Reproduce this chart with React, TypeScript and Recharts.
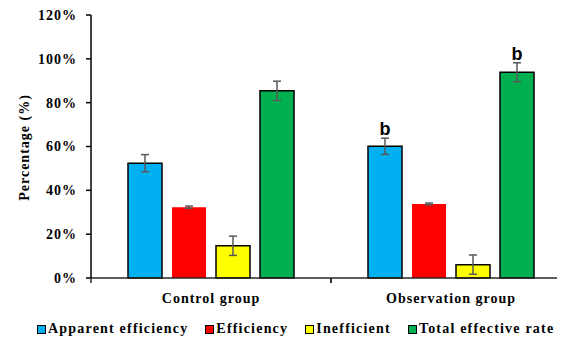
import React from "react";
import { BarChart, Bar, XAxis, YAxis, ErrorBar, LabelList } from "recharts";

const categories = ["Control group", "Observation group"];
const apparent = [52.4, 60.1];
const apparentErr = [3.9, 3.7];
const efficiency = [32.3, 33.8];
const efficiencyErr = [0.5, 0.4];
const inefficient = [14.7, 6.1];
const inefficientErr = [4.4, 4.4];
const total = [85.4, 93.9];
const totalErr = [4.4, 4.3];
const apparentSig = ["", "b"];
const totalSig = ["", "b"];
const yTicks = [0, 20, 40, 60, 80, 100, 120];

const seriesNames = ["Apparent efficiency", "Efficiency", "Inefficient", "Total effective rate"];
const seriesColors = ["#00B0F0", "#FF0000", "#FFFF00", "#00B050"];

const data = categories.map((c, i) => ({
  category: c,
  apparent: apparent[i],
  apparentErr: apparentErr[i],
  apparentSig: apparentSig[i],
  efficiency: efficiency[i],
  efficiencyErr: efficiencyErr[i],
  inefficient: inefficient[i],
  inefficientErr: inefficientErr[i],
  total: total[i],
  totalErr: totalErr[i],
  totalSig: totalSig[i],
}));

const FONT = "'Liberation Serif', 'Times New Roman', serif";

const CatTick = (props: any) => {
  const { x, y, payload } = props;
  const half = payload && payload.offset ? payload.offset : 0;
  return (
    <g>
      <line x1={x - half} x2={x - half} y1={y - 5} y2={y} stroke="#262626" strokeWidth={1.5} />
      <line x1={x + half} x2={x + half} y1={y - 5} y2={y} stroke="#262626" strokeWidth={1.5} />
      <text
        x={x}
        y={y}
        dy={20}
        textAnchor="middle"
        fontFamily={FONT}
        fontWeight="bold"
        fontSize={14}
        letterSpacing={1}
        fill="#000"
      >
        {payload.value}
      </text>
    </g>
  );
};

const makeSig = (values: number[], errs: number[]) => (props: any) => {
  const { x, y, width, height, value, index } = props;
  if (!value) return null;
  const v = values[index];
  const e = errs[index];
  const pxPer = height / v;
  const top = y - e * pxPer;
  return (
    <text
      x={x + width / 2}
      y={top - 3}
      textAnchor="middle"
      fontFamily="'Liberation Sans', Arial, sans-serif"
      fontWeight="bold"
      fontSize={18}
      fill="#000"
    >
      {value}
    </text>
  );
};

const YLabel = (props: any) => {
  const { viewBox } = props;
  const cx = 24;
  const cy = viewBox.y + viewBox.height / 2 + 1;
  return (
    <text
      x={cx}
      y={cy}
      transform={`rotate(-90, ${cx}, ${cy})`}
      textAnchor="middle"
      dominantBaseline="central"
      fontFamily={FONT}
      fontWeight="bold"
      fontSize={14}
      letterSpacing={1}
      fill="#000"
    >
      Percentage (%)
    </text>
  );
};

export default function App() {
  return (
    <div
      style={{
        position: "relative",
        width: 565,
        height: 342,
        marginLeft: -8,
        marginTop: -8,
        overflow: "hidden",
        background: "#fff",
      }}
    >
      <BarChart
        width={580}
        height={342}
        data={data}
        margin={{ top: 15, right: 9, left: 0, bottom: 34 }}
        barSize={34}
        barGap={10}
      >
        <XAxis
          dataKey="category"
          height={30}
          tickLine={false}
          tickSize={5}
          tickMargin={0}
          axisLine={{ stroke: "#262626", strokeWidth: 1.5 }}
          tick={<CatTick />}
          interval={0}
        />
        <YAxis
          width={91}
          domain={[0, 120]}
          ticks={yTicks}
          interval={0}
          tickSize={5}
          tickMargin={9}
          tickFormatter={(v: number) => `${v}%`}
          axisLine={{ stroke: "#000", strokeWidth: 1.5 }}
          tickLine={{ stroke: "#000", strokeWidth: 1.5 }}
          tick={{ fontFamily: FONT, fontWeight: "bold", fontSize: 14, fill: "#000", letterSpacing: 1 }}
          label={<YLabel />}
        />
        <Bar dataKey="apparent" name={seriesNames[0]} fill={seriesColors[0]} stroke="#000" strokeWidth={1.5} isAnimationActive={false}>
          <ErrorBar dataKey="apparentErr" width={4} stroke="#595959" strokeWidth={1.5} />
          <LabelList dataKey="apparentSig" content={makeSig(apparent, apparentErr)} />
        </Bar>
        <Bar dataKey="efficiency" name={seriesNames[1]} fill={seriesColors[1]} isAnimationActive={false}>
          <ErrorBar dataKey="efficiencyErr" width={4} stroke="#595959" strokeWidth={1.5} />
        </Bar>
        <Bar dataKey="inefficient" name={seriesNames[2]} fill={seriesColors[2]} stroke="#000" strokeWidth={1.5} isAnimationActive={false}>
          <ErrorBar dataKey="inefficientErr" width={4} stroke="#595959" strokeWidth={1.5} />
        </Bar>
        <Bar dataKey="total" name={seriesNames[3]} fill={seriesColors[3]} stroke="#000" strokeWidth={1.5} isAnimationActive={false}>
          <ErrorBar dataKey="totalErr" width={4} stroke="#595959" strokeWidth={1.5} />
          <LabelList dataKey="totalSig" content={makeSig(total, totalErr)} />
        </Bar>
      </BarChart>
      <div
        style={{
          position: "absolute",
          left: 37,
          top: 320,
          display: "flex",
          alignItems: "center",
          fontFamily: FONT,
          fontWeight: "bold",
          fontSize: 14,
          letterSpacing: 1.2,
          lineHeight: "18px",
          color: "#000",
          whiteSpace: "nowrap",
        }}
      >
        {seriesNames.map((n, i) => (
          <div key={n} style={{ display: "flex", alignItems: "center", marginRight: 17 }}>
            <span
              style={{
                display: "inline-block",
                width: 7,
                height: 7,
                border: "1.5px solid #000",
                background: seriesColors[i],
                marginRight: 2,
              }}
            />
            <span>{n}</span>
          </div>
        ))}
      </div>
    </div>
  );
}
